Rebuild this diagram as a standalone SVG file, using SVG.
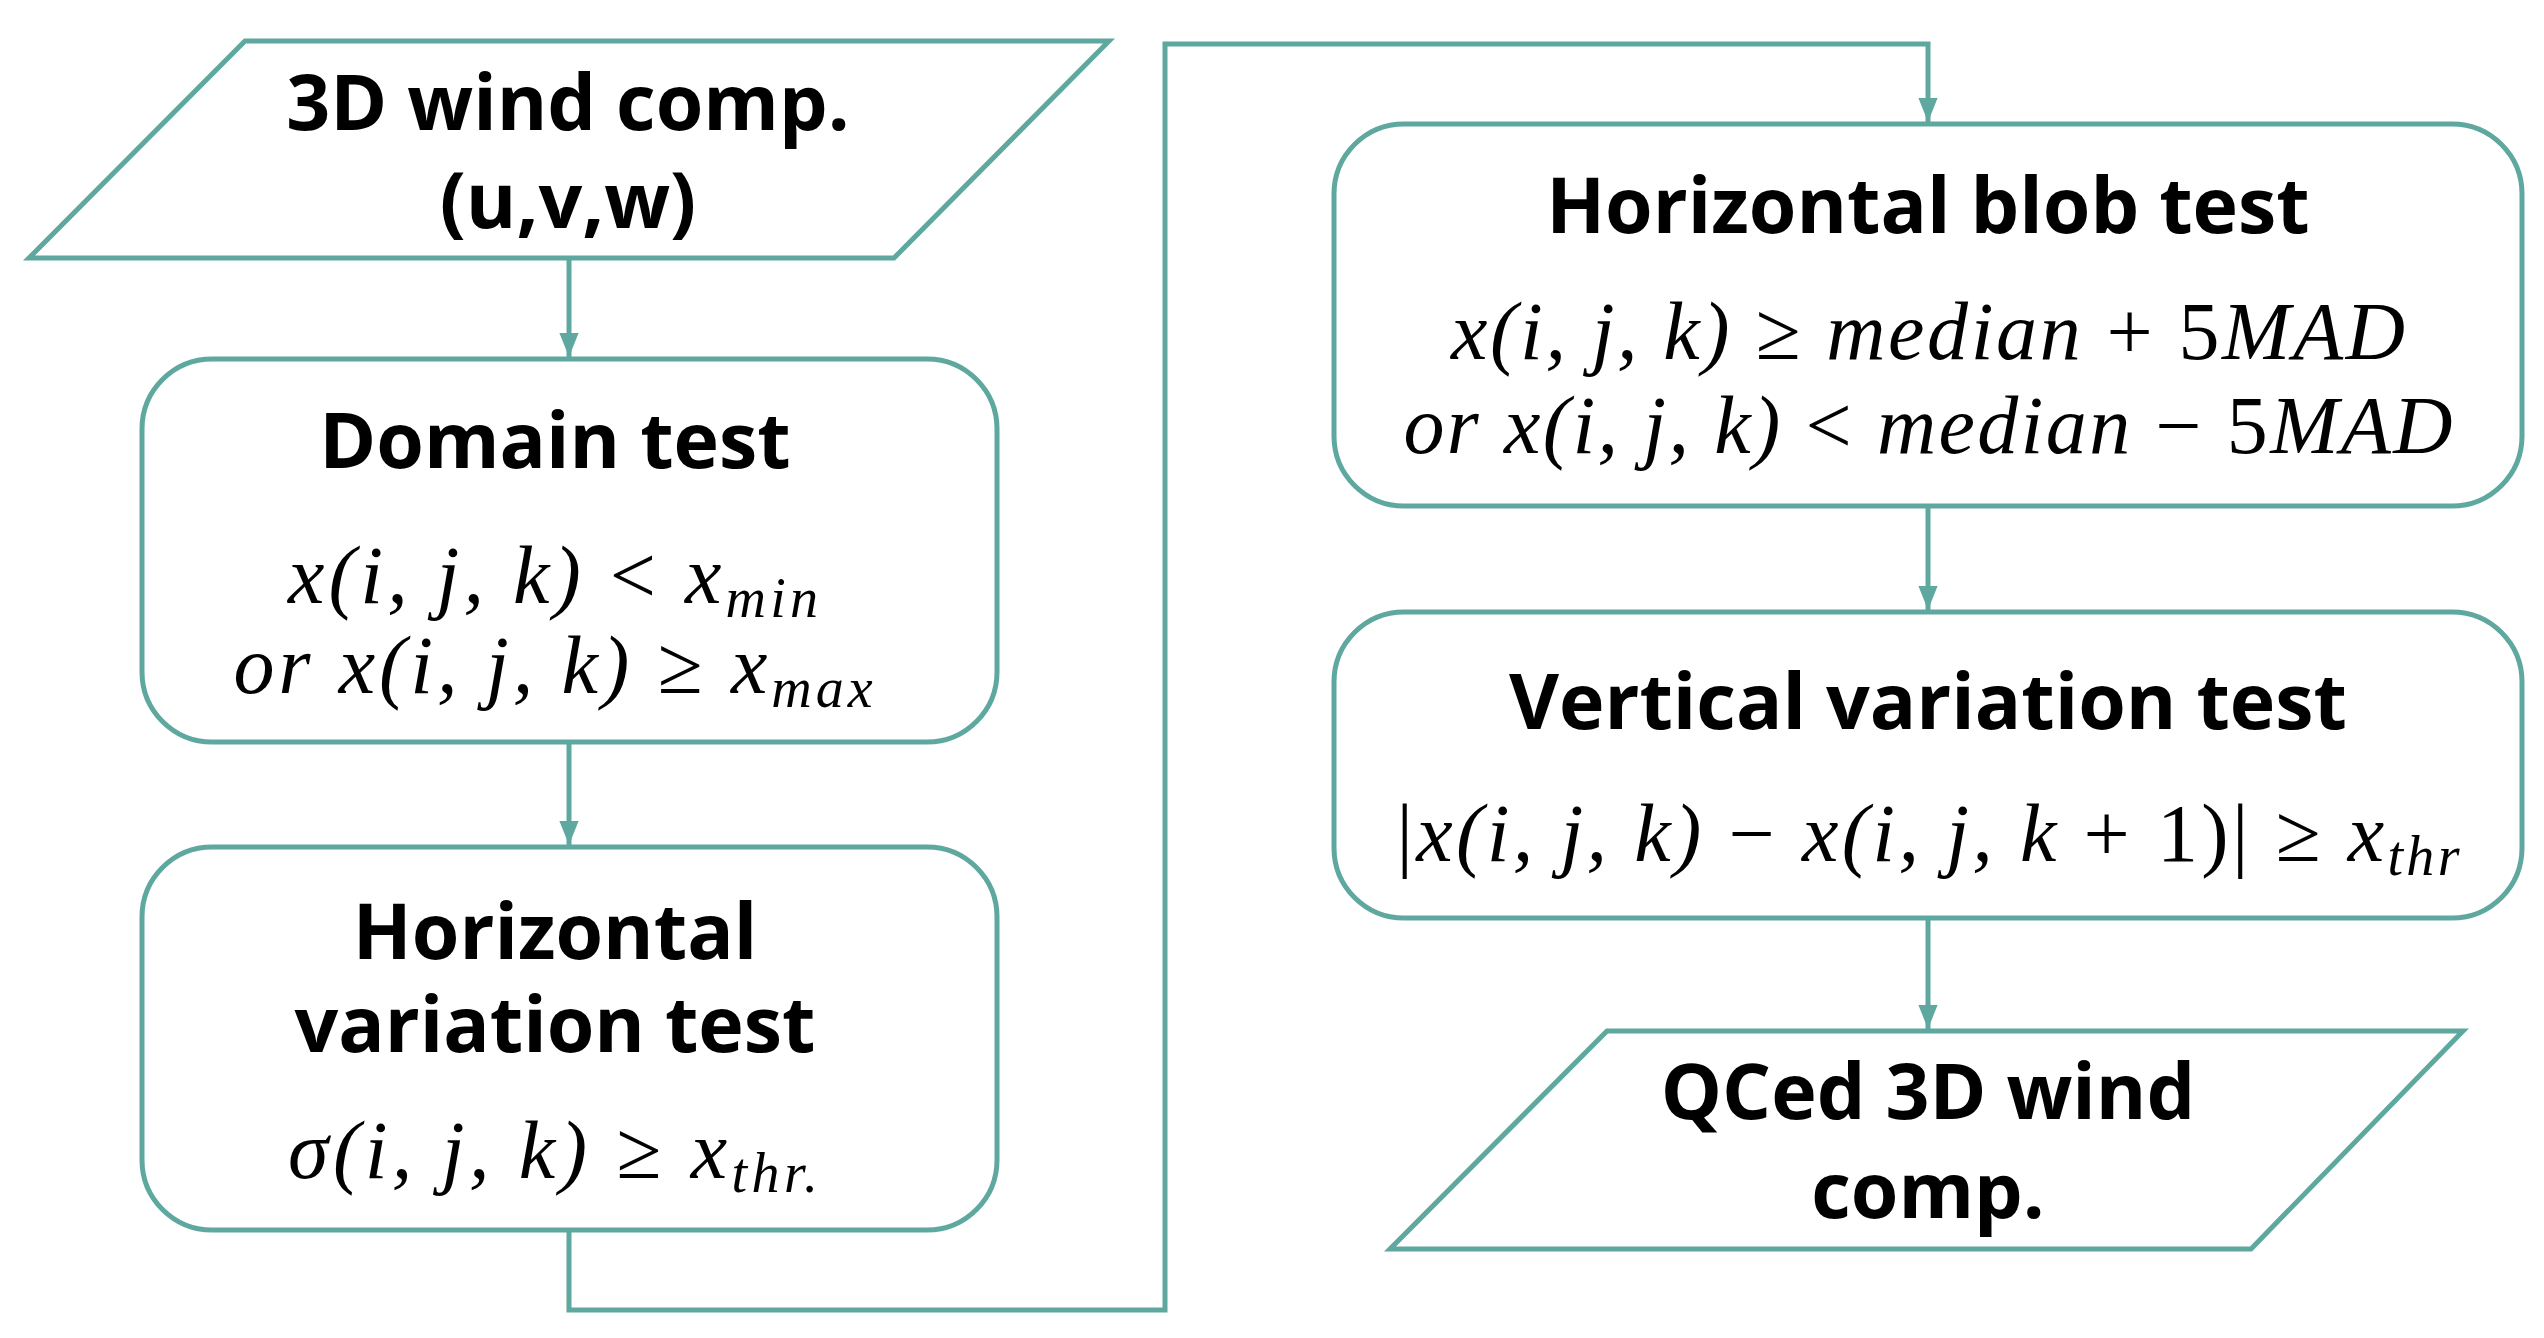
<svg xmlns="http://www.w3.org/2000/svg" width="2544" height="1338" viewBox="0 0 2544 1338">
<style>
.s{fill:#fff;stroke:#5fa8a0;stroke-width:5}
.c{fill:none;stroke:#5fa8a0;stroke-width:5}
.t{font-family:"Open Sans","Noto Sans",sans-serif;font-weight:bold;font-size:77px;text-anchor:middle;fill:#000}
.m{font-family:"Liberation Serif",serif;font-style:italic;font-size:82px;text-anchor:middle;fill:#000}
.u{font-style:normal}
.sb{font-size:56px}
</style>
<defs>
<marker id="b" viewBox="0 0 20 20" refX="20" refY="10" markerWidth="24" markerHeight="24" orient="auto" markerUnits="userSpaceOnUse"><path d="M0,2 L20,10 L0,18z" fill="#5fa8a0"/></marker></defs>
<g id="connectors">
<line class="c" x1="569" y1="258" x2="569" y2="357" marker-end="url(#b)"/>
<line class="c" x1="569" y1="742" x2="569" y2="845" marker-end="url(#b)"/>
<polyline class="c" points="569,1230 569,1310 1165,1310 1165,44 1928,44 1928,122" marker-end="url(#b)"/>
<line class="c" x1="1928" y1="506" x2="1928" y2="610" marker-end="url(#b)"/>
<line class="c" x1="1928" y1="918" x2="1928" y2="1029" marker-end="url(#b)"/>
</g>
<g id="input">
<polygon class="s" points="245,41 1109,41 894,258 29,258"/>
<text class="t" x="568" y="130">3D wind comp.</text>
<text class="t" x="568" y="228">(u,v,w)</text>
</g>
<g id="domain">
<rect class="s" x="142" y="359" width="855" height="383" rx="70"/>
<text class="t" x="555" y="468">Domain test</text>
<text class="m" x="553" y="603" textLength="530" lengthAdjust="spacing">x(i, j, k) <tspan class="u">&lt;</tspan> x<tspan class="sb" dy="14">min</tspan></text>
<text class="m" x="553" y="693" textLength="639" lengthAdjust="spacing">or x(i, j, k) <tspan class="u">≥</tspan> x<tspan class="sb" dy="14">max</tspan></text>
</g>
<g id="hvar">
<rect class="s" x="142" y="847" width="855" height="383" rx="70"/>
<text class="t" x="555" y="959">Horizontal</text>
<text class="t" x="555" y="1052">variation test</text>
<text class="m" x="553" y="1178" textLength="530" lengthAdjust="spacing">σ(i, j, k) <tspan class="u">≥</tspan> x<tspan class="sb" dy="14">thr.</tspan></text>
</g>
<g id="blob">
<rect class="s" x="1334" y="124" width="1188" height="382" rx="70"/>
<text class="t" x="1928" y="233">Horizontal blob test</text>
<text class="m" x="1928" y="359" textLength="954" lengthAdjust="spacing">x(i, j, k) <tspan class="u">≥</tspan> median <tspan class="u">+ 5</tspan>MAD</text>
<text class="m" x="1928" y="453" textLength="1049" lengthAdjust="spacing">or x(i, j, k) <tspan class="u">&lt;</tspan> median <tspan class="u">− 5</tspan>MAD</text>
</g>
<g id="vvar">
<rect class="s" x="1334" y="612" width="1188" height="306" rx="70"/>
<text class="t" x="1928" y="729">Vertical variation test</text>
<text class="m" x="1928" y="861" textLength="1063" lengthAdjust="spacing"><tspan class="u">|</tspan>x(i, j, k) <tspan class="u">−</tspan> x(i, j, k <tspan class="u">+ 1)|</tspan> <tspan class="u">≥</tspan> x<tspan class="sb" dy="14">thr</tspan></text>
</g>
<g id="output">
<polygon class="s" points="1607,1031 2463,1031 2251,1249 1390,1249"/>
<text class="t" x="1928" y="1119">QCed 3D wind</text>
<text class="t" x="1928" y="1218">comp.</text>
</g>
</svg>
